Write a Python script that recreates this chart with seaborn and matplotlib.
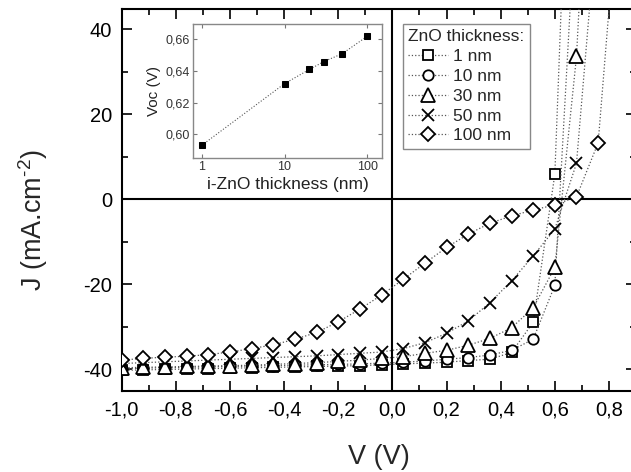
import matplotlib
matplotlib.use('Agg')
import matplotlib.pyplot as plt
import seaborn as sns
import numpy as np
from matplotlib.ticker import MultipleLocator, FuncFormatter, FixedLocator, NullLocator

sns.set_style('ticks')
plt.rcParams['font.family'] = ['Liberation Sans', 'DejaVu Sans']
plt.rcParams['mathtext.fontset'] = 'custom'
plt.rcParams['mathtext.rm'] = 'Liberation Sans'
plt.rcParams['mathtext.default'] = 'regular'

# bias voltage (V), one point every 0.08 V
voltage = [-1.00, -0.92, -0.84, -0.76, -0.68, -0.60, -0.52, -0.44, -0.36, -0.28,
           -0.20, -0.12, -0.04, 0.04, 0.12, 0.20, 0.28, 0.36, 0.44, 0.52,
           0.60, 0.68, 0.76, 0.84]

# current density (mA/cm2) for each i-ZnO thickness (last points run off the top)
j_1nm = [-40.2, -40.1, -40.0, -39.9, -39.8, -39.7, -39.6, -39.5, -39.4, -39.3,
         -39.2, -39.1, -38.9, -38.7, -38.5, -38.3, -37.9, -37.6, -36.0, -28.9,
         5.9, 140]
j_10nm = [-39.8, -39.7, -39.6, -39.5, -39.4, -39.3, -39.2, -39.1, -39.0, -38.9,
          -38.8, -38.7, -38.5, -38.3, -38.0, -37.6, -37.2, -36.6, -35.5, -32.9,
          -20.2, 72]
j_30nm = [-39.6, -39.5, -39.4, -39.3, -39.2, -39.1, -39.0, -38.8, -38.6, -38.4,
          -38.1, -37.8, -37.4, -37.0, -36.2, -35.5, -34.3, -32.7, -30.2, -25.5,
          -16.0, 33.6, 132]
j_50nm = [-38.6, -38.4, -38.2, -38.0, -37.8, -37.6, -37.4, -37.2, -37.0, -36.8,
          -36.5, -36.2, -35.9, -35.1, -33.7, -31.5, -28.6, -24.3, -19.2, -13.3,
          -7.0, 8.5, 69]
j_100nm = [-37.8, -37.4, -37.1, -36.9, -36.5, -35.9, -35.1, -34.2, -32.9, -31.3,
           -28.8, -25.8, -22.5, -18.8, -15.0, -11.3, -8.2, -5.6, -3.9, -2.5,
           -1.3, 0.6, 13.3, 76]

series_labels = ['1 nm', '10 nm', '30 nm', '50 nm', '100 nm']
series_markers = ['s', 'o', '^', 'x', 'D']
series_sizes = [7, 7.5, 10, 9, 7]

# inset: open-circuit voltage vs i-ZnO thickness
thickness_nm = [1, 10, 20, 30, 50, 100]
voc = [0.593, 0.632, 0.641, 0.646, 0.651, 0.662]

fig = plt.figure(figsize=(6.31, 4.72), dpi=100)
ax = fig.add_axes([0.1929, 0.1722, 0.8151, 0.8081])

ax.axhline(0, color='black', lw=1.5, zorder=1.5)
ax.axvline(0, color='black', lw=1.5, zorder=1.5)

for j, lab, mk, ms in zip([j_1nm, j_10nm, j_30nm, j_50nm, j_100nm],
                          series_labels, series_markers, series_sizes):
    sns.lineplot(x=voltage[:len(j)], y=j, ax=ax, label=lab, marker=mk,
                 ms=ms, mfc='white', mec='black', mew=1.3, color='#555555',
                 linestyle=':', lw=0.9, zorder=3)

ax.set_xlim(-1.0, 0.9)
ax.set_ylim(-45.0, 44.7)
ax.xaxis.set_major_locator(FixedLocator(np.arange(-1.0, 0.81, 0.2)))
ax.xaxis.set_minor_locator(MultipleLocator(0.1))
ax.yaxis.set_major_locator(MultipleLocator(20))
ax.yaxis.set_minor_locator(MultipleLocator(10))
ax.xaxis.set_major_formatter(FuncFormatter(lambda v, p: f'{v:.1f}'.replace('.', ',').replace('-0,0', '0,0')))
ax.yaxis.set_major_formatter(FuncFormatter(lambda v, p: f'{v:.0f}'))
ax.tick_params(which='both', direction='in', top=True, right=True, width=1.2, colors='black')
ax.tick_params(which='major', length=7, labelsize=14.5, pad=7)
ax.tick_params(which='minor', length=4)
for s in ax.spines.values():
    s.set_linewidth(1.5)
    s.set_color('black')

ax.set_xlabel('V (V)', fontsize=19.5)
ax.set_ylabel(r'J (mA.cm$^{\text{-2}}$)', fontsize=19.5)
ax.xaxis.label.set_va('center')
ax.yaxis.label.set_va('center')
ax.xaxis.set_label_coords(0.4997, -0.1738)
ax.yaxis.set_label_coords(-0.1725, 0.4476)

leg = ax.legend(title='ZnO thickness:', loc='upper left', bbox_to_anchor=(0.547, 0.9614),
                borderaxespad=0, fontsize=12.5, title_fontsize=12.5, frameon=True,
                fancybox=False, framealpha=1, edgecolor='#888888', labelspacing=0.27,
                handlelength=2.3, handletextpad=0.25, borderpad=0.3, alignment='left')
leg.get_frame().set_linewidth(1.0)

# inset
ins = fig.add_axes([0.3054, 0.6646, 0.3005, 0.2845])
sns.lineplot(x=thickness_nm, y=voc, ax=ins, marker='s', ms=4, mfc='black', mec='black',
             color='#555555', linestyle=':', lw=0.8)
ins.set_xscale('log')
ins.set_xlim(0.778, 151.7)
ins.set_ylim(0.5848, 0.6697)
ins.xaxis.set_major_locator(FixedLocator([1, 10, 100]))
ins.xaxis.set_minor_locator(NullLocator())
ins.xaxis.set_major_formatter(FuncFormatter(lambda v, p: f'{v:.0f}'))
ins.yaxis.set_major_locator(MultipleLocator(0.02))
ins.yaxis.set_major_formatter(FuncFormatter(lambda v, p: f'{v:.2f}'.replace('.', ',')))
ins.tick_params(which='both', direction='in', top=True, right=True, length=3, width=0.8,
                colors='#777777', labelcolor='#333333', labelsize=9, pad=2)
for s in ins.spines.values():
    s.set_linewidth(1.0)
    s.set_color('#888888')
ins.set_xlabel('i-ZnO thickness (nm)', fontsize=12.5, color='#222222', labelpad=3)
ins.set_ylabel('Voc (V)', fontsize=11, color='#222222', labelpad=3)

fig.savefig('out.png', dpi=100)
